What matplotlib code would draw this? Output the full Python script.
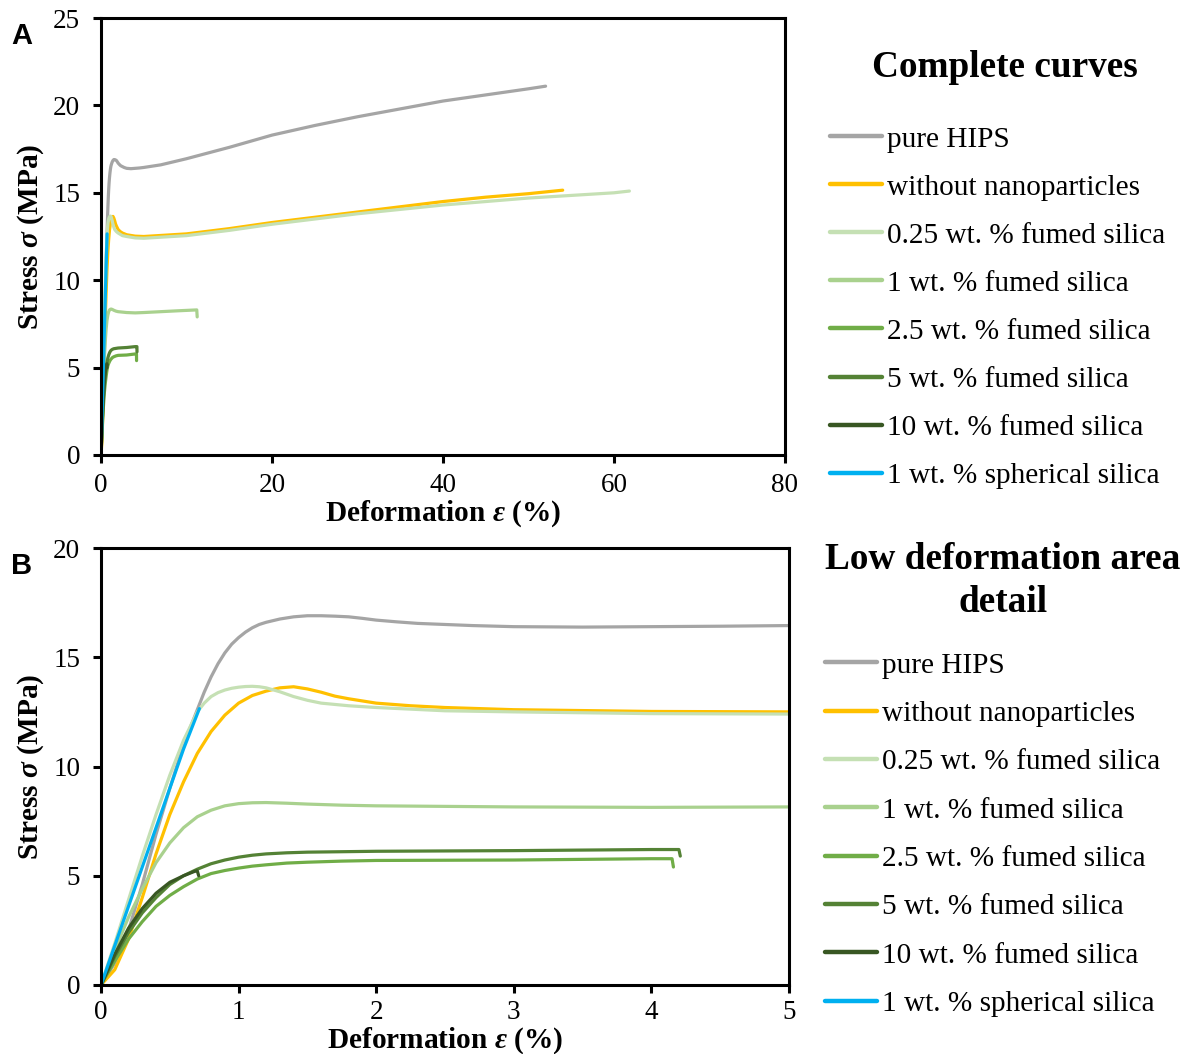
import matplotlib
matplotlib.use("Agg")
import matplotlib.pyplot as plt
import numpy as np

plt.rcParams['font.family'] = ['Liberation Serif', 'DejaVu Serif']
plt.rcParams['mathtext.fontset'] = 'custom'
plt.rcParams['mathtext.rm'] = 'Liberation Serif'
plt.rcParams['mathtext.it'] = 'Liberation Serif:italic'
plt.rcParams['mathtext.bf'] = 'Liberation Serif:bold'
plt.rcParams['mathtext.bfit'] = 'Liberation Serif:italic:bold'

labels = ["pure HIPS", "without nanoparticles", "0.25 wt. % fumed silica",
          "1 wt. % fumed silica", "2.5 wt. % fumed silica", "5 wt. % fumed silica",
          "10 wt. % fumed silica", "1 wt. % spherical silica"]
colors = ["#A5A5A5", "#FFC000", "#C5E0B4", "#A9D18E", "#70AD47", "#548235",
          "#385723", "#00B0F0"]
titles = ["Complete curves", "Low deformation area\ndetail"]

# strain (%) and stress (MPa)
hips_e = [0, 0.1, 0.2, 0.3, 0.4, 0.5, 0.6, 0.7, 0.75, 0.8, 0.85, 0.9, 0.95, 1.0,
          1.05, 1.1, 1.15, 1.2, 1.3, 1.4, 1.5, 1.6, 1.7, 1.8, 1.9, 2.0, 2.15, 2.3,
          2.5, 2.7, 3.0, 3.5, 4.0, 4.5, 5.0, 7, 10, 15, 20, 25, 30, 35, 40, 45, 50, 52]
hips_s = [0, 1.0, 2.5, 4.6, 6.9, 9.0, 11.0, 12.6, 13.4, 14.1, 14.7, 15.2, 15.6,
          15.9, 16.15, 16.35, 16.5, 16.6, 16.75, 16.85, 16.9, 16.9, 16.88, 16.85,
          16.78, 16.7, 16.62, 16.55, 16.5, 16.45, 16.4, 16.38, 16.4, 16.42, 16.45,
          16.6, 16.95, 17.6, 18.3, 18.85, 19.35, 19.8, 20.25, 20.6, 20.95, 21.1]

nano_e = [0, 0.1, 0.2, 0.3, 0.4, 0.5, 0.6, 0.7, 0.8, 0.9, 1.0, 1.1, 1.2, 1.3, 1.4,
          1.5, 1.6, 1.7, 1.8, 1.9, 2.0, 2.25, 2.5, 3.0, 4.0, 5.0, 10, 15, 20, 25,
          30, 35, 40, 45, 50, 54]
nano_s = [0, 0.7, 2.1, 4.0, 6.0, 7.8, 9.3, 10.6, 11.6, 12.35, 12.9, 13.25, 13.45,
          13.6, 13.65, 13.55, 13.4, 13.22, 13.1, 13.0, 12.9, 12.78, 12.7, 12.6,
          12.52, 12.5, 12.65, 12.95, 13.3, 13.6, 13.9, 14.2, 14.5, 14.75, 14.95, 15.15]

fs025_e = [0, 0.1, 0.2, 0.3, 0.4, 0.5, 0.6, 0.7, 0.75, 0.8, 0.85, 0.9, 0.95, 1.0,
           1.05, 1.1, 1.15, 1.2, 1.3, 1.4, 1.5, 1.6, 1.8, 2.0, 2.5, 3.0, 4.0, 5.0,
           10, 15, 20, 25, 30, 35, 40, 45, 50, 55, 60, 61.8]
fs025_s = [0, 1.9, 3.9, 5.9, 7.8, 9.6, 11.2, 12.5, 12.9, 13.2, 13.38, 13.5, 13.58,
           13.63, 13.66, 13.67, 13.65, 13.6, 13.42, 13.2, 13.03, 12.9, 12.78, 12.7,
           12.55, 12.5, 12.42, 12.4, 12.55, 12.85, 13.2, 13.5, 13.8, 14.05, 14.3,
           14.5, 14.7, 14.85, 15.0, 15.1]

fs1_e = [0, 0.1, 0.2, 0.3, 0.4, 0.5, 0.6, 0.7, 0.8, 0.9, 1.0, 1.1, 1.2, 1.35, 1.5,
         1.75, 2.0, 3.0, 4.0, 5.0, 7.0, 9.0, 11.2, 11.25]
fs1_s = [0, 1.6, 3.1, 4.4, 5.6, 6.5, 7.2, 7.7, 8.0, 8.2, 8.3, 8.34, 8.35, 8.32,
         8.28, 8.23, 8.2, 8.15, 8.13, 8.15, 8.2, 8.25, 8.3, 7.9]

fs25_e = [0, 0.1, 0.2, 0.3, 0.4, 0.5, 0.6, 0.7, 0.8, 0.9, 1.0, 1.1, 1.2, 1.35, 1.5,
          1.75, 2.0, 3.0, 4.0, 4.15, 4.16]
fs25_s = [0, 1.1, 2.1, 2.9, 3.6, 4.1, 4.5, 4.85, 5.1, 5.24, 5.35, 5.44, 5.5, 5.58,
          5.62, 5.67, 5.7, 5.72, 5.78, 5.78, 5.4]

fs5_e = [0, 0.1, 0.2, 0.3, 0.4, 0.5, 0.6, 0.7, 0.8, 0.9, 1.0, 1.1, 1.2, 1.35, 1.5,
         2.0, 3.0, 4.0, 4.2, 4.21]
fs5_s = [0, 1.3, 2.4, 3.3, 4.0, 4.6, 5.0, 5.3, 5.55, 5.72, 5.85, 5.94, 6.0, 6.05,
         6.08, 6.12, 6.15, 6.2, 6.2, 5.9]

fs10_e = [0, 0.1, 0.2, 0.3, 0.4, 0.5, 0.6, 0.68, 0.7, 0.71]
fs10_s = [0, 1.4, 2.6, 3.5, 4.2, 4.7, 5.0, 5.2, 5.22, 5.0]

sph_e = [0, 0.1, 0.2, 0.3, 0.4, 0.5, 0.6, 0.715]
sph_s = [0, 1.8, 3.6, 5.4, 7.2, 9.0, 10.8, 12.65]

series = [(hips_e, hips_s), (nano_e, nano_s), (fs025_e, fs025_s), (fs1_e, fs1_s),
          (fs25_e, fs25_s), (fs5_e, fs5_s), (fs10_e, fs10_s), (sph_e, sph_s)]

W, H = 1189, 1054
fig = plt.figure(figsize=(W / 100, H / 100), dpi=100)

def px_axes(l, t, r, b):
    return fig.add_axes([l / W, 1 - b / H, (r - l) / W, (b - t) / H])

axA = px_axes(101, 18, 785, 455)
axB = px_axes(101, 548, 789, 985)

for ax in (axA, axB):
    for (e, s), c, lab in zip(series, colors, labels):
        ax.plot(e, s, color=c, lw=2.3, label=lab, solid_capstyle='round',
                solid_joinstyle='round')
    for sp in ax.spines.values():
        sp.set_linewidth(2.2)
    ax.tick_params(direction='out', length=6, width=2.2, labelsize=19.5,
                   top=False, right=False)
    ax.tick_params(axis='y', pad=9)
axA.tick_params(axis='x', pad=7)
axB.tick_params(axis='x', pad=5)

axA.set_xlim(0, 80)
axA.set_ylim(0, 25)
axA.set_xticks([0, 20, 40, 60, 80])
axA.set_yticks([0, 5, 10, 15, 20, 25])
axB.set_xlim(0, 5)
axB.set_ylim(0, 20)
axB.set_xticks([0, 1, 2, 3, 4, 5])
axB.set_yticks([0, 5, 10, 15, 20])

xlab = r'Deformation $\mathbfit{\varepsilon}$ (%)'
ylab = r'Stress $\mathbfit{\sigma}$ (MPa)'
for ax in (axA, axB):
    ax.set_xlabel(xlab, fontsize=21.2, fontweight='bold', labelpad=0)
    ax.set_ylabel(ylab, fontsize=21.2, fontweight='bold', labelpad=5)

fig.text(22 / W, 1 - 36 / H, 'A', fontsize=21, fontweight='bold',
         family=['Liberation Sans'], ha='center', va='center')
fig.text(22 / W, 1 - 566 / H, 'B', fontsize=21, fontweight='bold',
         family=['Liberation Sans'], ha='center', va='center')

fig.text(1005 / W, 1 - 68 / H, titles[0], fontsize=26.8, fontweight='bold',
         ha='center', va='center')
fig.text(1003 / W, 1 - 581 / H, titles[1], fontsize=26.8, fontweight='bold',
         ha='center', va='center', multialignment='center', linespacing=1.28)

def make_leg(ax, anchor, spacing):
    leg = ax.legend(loc='upper left', bbox_to_anchor=anchor,
                    bbox_transform=fig.transFigure, frameon=False,
                    fontsize=21.1, handlelength=1.78, handletextpad=0.15,
                    labelspacing=spacing, borderpad=0, borderaxespad=0)
    for ln in leg.get_lines():
        ln.set_linewidth(3.2)
    return leg

make_leg(axA, (830 / W, 1 - 126 / H), 0.735)
make_leg(axB, (825 / W, 1 - 652 / H), 0.745)

fig.savefig('out.png', dpi=100)
